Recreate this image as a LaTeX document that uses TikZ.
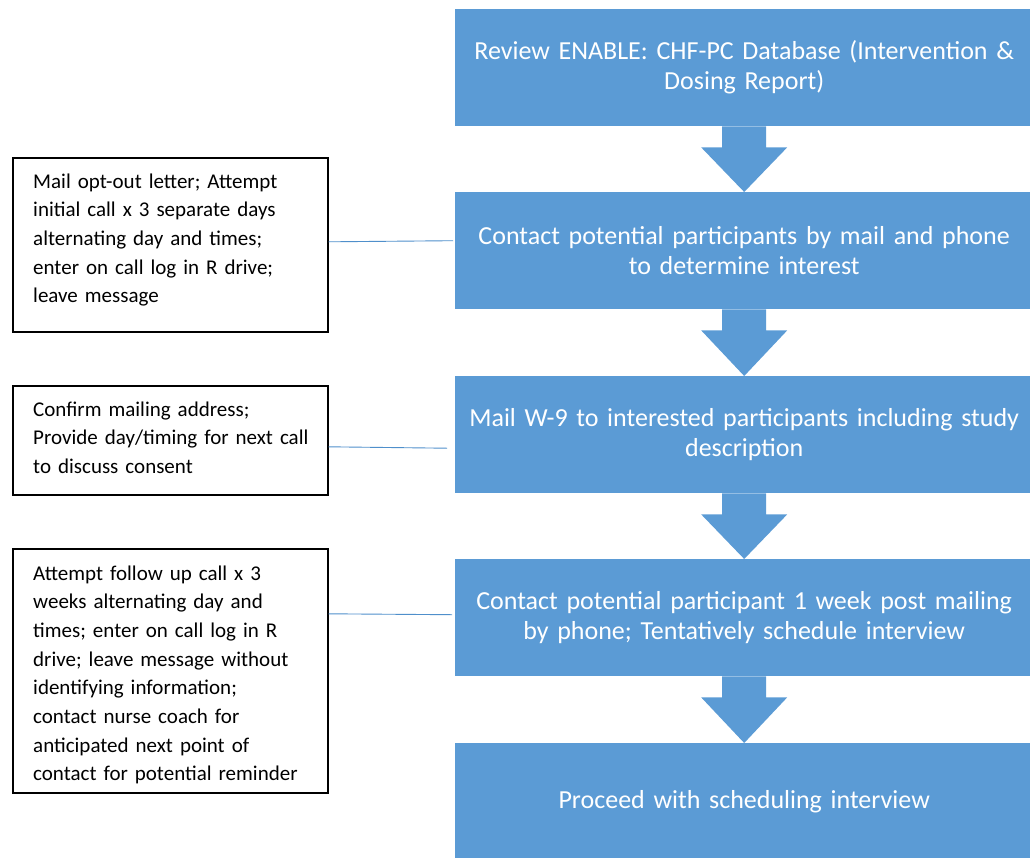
\documentclass[tikz,border=0pt]{standalone}
\usepackage{fontspec}
\setmainfont{Carlito}
\usetikzlibrary{calc}
\definecolor{stepblue}{HTML}{5B9BD5}
\definecolor{linkblue}{HTML}{4F8FCB}
% block arrow from the bottom of one step to the top of the next
\newcommand\flowarrow[2]{%
  \fill[stepblue] ($(#1.south)+(-22,0)$) -- ($(#1.south)+(22,0)$)
    -- ($(#1.south)+(22,21)$) -- ($(#1.south)+(43,21)$) -- (#2.north)
    -- ($(#1.south)+(-43,21)$) -- ($(#1.south)+(-22,21)$) -- cycle;}
\begin{document}
\begin{tikzpicture}[x=1pt,y=-1pt,
  stepbox/.style={fill=stepblue, text=white, minimum width=578pt,
    minimum height=117pt, inner sep=0pt, align=center, text width=575pt,
    font=\fontsize{26}{30}\selectfont, anchor=north west},
  notebox/.style={draw=black, line width=1.6pt, minimum width=315pt,
    inner sep=0pt, anchor=north west},
  notetext/.style={inner sep=0pt, align=left, text width=285pt,
    font=\fontsize{21}{28.7}\selectfont, anchor=base west},
  link/.style={draw=linkblue, line width=0.9pt}]
\useasboundingbox (0,0) rectangle (1030,857);
\clip (0,0) rectangle (1030,857);

% main steps
\node[stepbox] (s1) at (455,9) {Review ENABLE: CHF-PC Database (Intervention \&\\Dosing Report)};
\node[stepbox] (s2) at (455,192) {Contact potential participants by mail and phone\\to determine interest};
\node[stepbox] (s3) at (455,376) {Mail W-9 to interested participants including study\\description};
\node[stepbox] (s4) at (455,559) {Contact potential participant 1 week post mailing\\by phone; Tentatively schedule interview};
\node[stepbox] (s5) at (455,743) {Proceed with scheduling interview};

\flowarrow{s1}{s2}
\flowarrow{s2}{s3}
\flowarrow{s3}{s4}
\flowarrow{s4}{s5}

% side notes: frame first, then the text set inside it
\node[notebox, minimum height=174pt] (n1) at (12,157) {};
\node[notetext] (n1t) at ($(n1.north west)+(21,31)$) {Mail opt-out letter; Attempt\\initial call x 3 separate days\\alternating day and times;\\enter on call log in R drive;\\leave message};
\node[notebox, minimum height=109pt] (n2) at (12,385) {};
\node[notetext] (n2t) at ($(n2.north west)+(21,31)$) {Confirm mailing address;\\Provide day/timing for next call\\to discuss consent};
\node[notebox, minimum height=244pt] (n3) at (12,548) {};
\node[notetext] (n3t) at ($(n3.north west)+(21,32)$) {Attempt follow up call x 3\\weeks alternating day and\\times; enter on call log in R\\drive; leave message without\\identifying information;\\contact nurse coach for\\anticipated next point of\\contact for potential reminder};

\draw[link] ($(n1.east)+(0,-3)$) -- ($(s2.west)+(-2,-10)$);
\draw[link] ($(n2.east)+(0,6.5)$) -- ($(s3.west)+(-8,13.5)$);
\draw[link] ($(n3.east)+(0,-57)$) -- ($(s4.west)+(-3,-3)$);
\end{tikzpicture}
\end{document}
